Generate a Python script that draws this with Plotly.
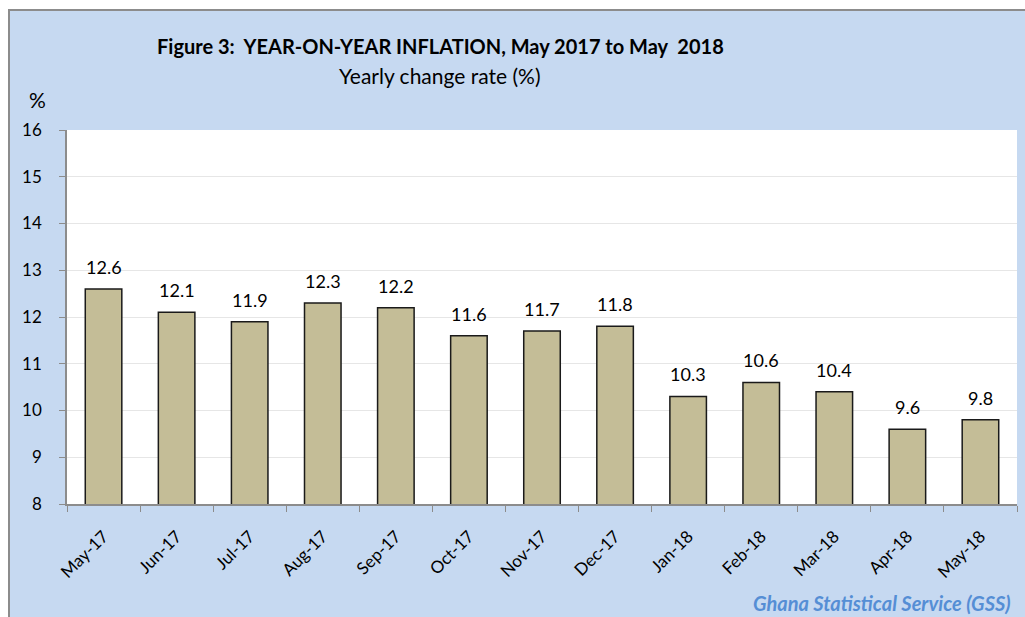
import plotly.graph_objects as go

months = ["May-17", "Jun-17", "Jul-17", "Aug-17", "Sep-17", "Oct-17", "Nov-17",
          "Dec-17", "Jan-18", "Feb-18", "Mar-18", "Apr-18", "May-18"]
inflation = [12.6, 12.1, 11.9, 12.3, 12.2, 11.6, 11.7, 11.8, 10.3, 10.6, 10.4, 9.6, 9.8]
y_ticks = [8, 9, 10, 11, 12, 13, 14, 15, 16]

W, H = 1025, 617
L, R, T, B = 67, 8, 130, 113
pw, ph = W - L - R, H - T - B

def px_x(x):
    return (x - L) / pw

def px_y(y):
    return (H - B - y) / ph

FONT = "Lato"

fig = go.Figure(go.Bar(
    x=months, y=inflation,
    marker=dict(color="#c4bd97", line=dict(color="#1a1a1a", width=1.5)),
    cliponaxis=False,
))

value_labels = [
    dict(x=m, y=v, xref="x", yref="y", text=f"{v:.1f}", showarrow=False,
         xanchor="center", yanchor="bottom", yshift=9,
         font=dict(size=18, family=FONT, color="#000000"))
    for m, v in zip(months, inflation)
]

fig.update_layout(
    width=W, height=H,
    margin=dict(l=L, r=R, t=T, b=B),
    paper_bgcolor="white",
    plot_bgcolor="rgba(0,0,0,0)",
    bargap=0.5,
    showlegend=False,
    font=dict(family=FONT, color="#000000"),
    shapes=[
        dict(type="rect", xref="paper", yref="paper", layer="below",
             x0=px_x(9), x1=px_x(1035), y0=px_y(630), y1=px_y(10),
             fillcolor="#c6d9f1", line=dict(color="#8c8c8c", width=2)),
        dict(type="rect", xref="paper", yref="paper", layer="below",
             x0=0, x1=1, y0=0, y1=1, fillcolor="white", line=dict(width=0)),
    ],
    annotations=value_labels + [
        dict(text="<b>Figure 3:  YEAR-ON-YEAR INFLATION, May 2017 to May  2018</b>",
             xref="paper", yref="paper", x=px_x(440), y=px_y(46),
             showarrow=False, xanchor="center", yanchor="middle",
             font=dict(size=20, family=FONT)),
        dict(text="Yearly change rate (%)",
             xref="paper", yref="paper", x=px_x(440), y=px_y(75),
             showarrow=False, xanchor="center", yanchor="middle",
             font=dict(size=21, family=FONT)),
        dict(text="%", xref="paper", yref="paper", x=px_x(37), y=px_y(100),
             showarrow=False, xanchor="center", yanchor="middle",
             font=dict(size=21, family=FONT)),
        dict(text="<b><i>Ghana Statistical Service (GSS)</i></b>",
             xref="paper", yref="paper", x=px_x(1013), y=px_y(603),
             showarrow=False, xanchor="right", yanchor="middle",
             font=dict(size=20, family=FONT, color="#558ed5")),
    ],
)

fig.update_xaxes(
    tickangle=-45, tickson="boundaries", ticks="outside", ticklen=6,
    tickcolor="#8c8c8c", showline=True, linecolor="#8c8c8c", linewidth=1.5,
    tickfont=dict(size=17, family=FONT), showgrid=False,
    ticklabelstandoff=14,
)
fig.update_yaxes(
    range=[8, 16], tickvals=y_ticks, ticks="outside", ticklen=6,
    tickcolor="#8c8c8c", showline=True, linecolor="#8c8c8c", linewidth=1.5,
    gridcolor="#e6e6e6", gridwidth=1, tickfont=dict(size=17, family=FONT),
    ticklabelstandoff=14, zeroline=False,
)

fig.write_html("out.html", config={"displayModeBar": False},
               post_script="document.body.style.margin='0';")
